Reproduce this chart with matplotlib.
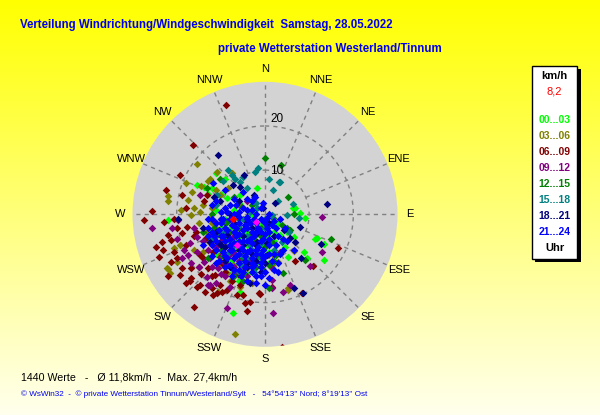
import numpy as np
import matplotlib.pyplot as plt
from matplotlib.patches import Rectangle

plt.rcParams['font.family'] = ['Liberation Sans', 'DejaVu Sans']

# Wind vectors, east / north component in km/h,
# one list per 3-hour block (drawn in time order, later blocks on top)
pts_00_03 = [(-11.2, 9.3), (-15.5, 6.6), (-21.9, -1.4), (-7.2, -22.4), (6.3, 1.4), (9, -0.9),
             (11.7, -5.4), (13.4, -6.8), (13.3, -10.3), (9.4, -10), (4.9, -3.9), (3.4, -4.7),
             (-6, -15.2), (-3, -0.2), (-1.9, 5.9), (-5.7, 4.4), (-8.7, 3.6), (0.4, -4.7),
             (0.8, -8.5), (-2.6, -6.2), (-4.9, -10), (-12.4, -0.9), (-7.2, -13), (-6, -5),
             (-3, -2), (-8, -3), (-1, -5), (-5, -9), (-2, -10), (0, -6), (2, -6), (-10, -3),
             (-7, 1), (-13, 4.5), (-4, -13.5), (1, -11), (-9.5, -7.5), (3, -2), (11.3, -5.6),
             (6.8, 1.4), (7.9, 0.2), (6.6, -5.1), (4.5, -7.3), (8.9, -8.5), (5.3, -9.6),
             (-5.7, -17.5), (-13.8, 6.1), (-9, -1), (-7, -6), (-4, -7), (-11, 1), (-6, 2.5),
             (-3, 0.5), (-1, -2.5), (-8, -10.5), (-10, 4.5), (2, -4), (-12, 6), (-9, 8), (-5, -12),
             (-7, -8), (-9, -5), (-4, -4), (-2, -11), (-6, -1), (-11, -9), (-0.5, -7),
             (-12, -3.5), (-7, -11.5)]
pts_03_06 = [(-15.5, 11.3), (-17.9, 7), (-21.9, 3.1), (-21.9, 4.2), (-17.4, 3.2), (-14.7, 0.6),
             (-12.1, 1.4), (-10.9, 9.6), (-7.5, 9.3), (-8.4, 5.9), (-10.2, 4.4), (-19.2, -6.9),
             (-22, -12.4), (-21.5, -13.3), (-6.8, -27.1), (-16.8, -0.2), (-12.4, -0.9),
             (-13.2, -3.9), (-11.7, -6.9), (-8.7, -9.2), (-8.7, -13.3), (-7.2, -11.5),
             (-4.9, -9.2), (-4.1, -12.2), (1.5, -11.5), (5.3, -16.7), (1.9, -9.2), (-16.6, 5.1),
             (-2.6, 4), (-11, -3), (-13, -6), (-9, -7), (-15, -2), (-14, 2), (-19, 1), (-6, -7.5),
             (-10, -11.5), (-3, -15.5), (-16, -8), (-12.4, 8.1), (-14.5, 6.5), (-13, 7.5),
             (-20.5, -7.7), (-22.2, -12.2), (-20, -10.7), (-10.6, -17.5), (-5.7, -16.4),
             (6.6, -8.3), (3, -10.9), (5.3, -17.1), (-12, -2), (-14, -8.5), (-10, -9), (-7, -10),
             (-16, 1.5), (-11, 5.5), (-6, 2), (-8, -15)]
pts_06_09 = [(-8.8, 24.7), (-16.2, 15.7), (-19.2, 8.9), (-22.4, 5.5), (-25.6, 0.8), (-27.5, -1.3),
             (-22.8, -1.8), (-23.4, -6.3), (-24.7, -7.5), (-23.1, -8.1), (-24.1, -9.6),
             (-21.9, -4.7), (-21.3, -5.8), (-20.7, -8.5), (-21.3, -10.7), (-21.9, -14),
             (-19.2, -13.7), (-16.7, -14.5), (-15.5, -16.4), (-14.7, -16), (-17, -15.2),
             (-13.6, -17.6), (-11.7, -18.3), (-10.9, -17.9), (-9.8, -17.5), (-16, -21),
             (-8.7, -17.1), (-5.7, -16), (-4.1, -22), (-4.5, -20.1), (-3.4, -19.8), (-5, -18.3),
             (-1.1, -18), (1.5, -16.4), (3.8, -30), (8.4, -17.9), (6.8, -10.6), (10.9, -11.6),
             (16.6, -7.6), (-17.9, 1.4), (-18.8, 4.4), (-17.7, -2.8), (-14.7, -9.2),
             (-12.8, -12.2), (-11.3, -13.7), (-10.2, -16), (-12, -16.7), (-16.8, -12.2),
             (-7.5, -15.2), (-6.4, -18.3), (-19.9, -10), (-18.8, -12.2), (-13.4, -5.4),
             (-15.7, -3.9), (-18.8, -4.3), (-11.7, -8.5), (-9.8, -11.1), (-13.9, 2.9),
             (-13.2, 4.4), (-14, -10), (-18, -7), (-16, -5), (-20, -3), (-12, -14), (-18, -15.5),
             (-20.5, -1), (-15, -12), (-9, -13), (-6, -13.5), (-14.5, -13.5), (-1.3, -17.9)]
pts_09_12 = [(-25.6, -3), (-19.6, -1.3), (-21, -3.2), (-15.5, -5.1), (-18.3, -8.1), (-17.4, -9.2),
             (-15.5, -8.5), (-16.8, -11.1), (-13.9, -10.7), (-12.4, -10), (-13.2, -14.1),
             (-10.6, -12.2), (-8.5, -21.3), (-10.2, -9.6), (-7.2, -8.5), (-5.7, -7.7), (-6.8, -13),
             (-3.4, -10.7), (1.5, -12.2), (1.5, -14.9), (1.7, -22.4), (4, -17.6), (5.7, -16),
             (10.2, -11.6), (13, -0.7), (13, -8.6), (-11.3, -1.7), (-9.4, -4.7), (-14.7, 4.4),
             (-4.1, 2.9), (3.4, -8.5), (-8.7, 0.6), (-10, -6), (-13, -8), (-8, -9), (-12, -12),
             (-9, -14), (-6, -10.5), (-15, -12), (-12.4, -16), (1.5, -16.6), (-18.8, -10),
             (-17, -6.5), (-20, -5.5), (-11, -15.5), (-7, -5), (-5, -11.8), (-11, -7.5),
             (-14, -6), (-9, -11), (-7, -12), (-16, -3), (-10, -13.5), (-12, -4.5), (-4, -14),
             (-13, -16), (-8, -16.5)]
pts_12_15 = [(0, 12.8), (3.6, 11.2), (5.3, 4), (14.9, -5.6), (4.1, -13.3), (2.6, -9.2), (1.5, -6.2),
             (3.8, -2.4), (5.7, -3.6), (-5.3, 1.7), (-13.2, 5.9), (-10.2, 8.1), (-1.1, -4.7),
             (-1.9, -9.2), (-6.4, -3.2), (-8.7, -1.7), (-4.9, -15.2), (1.9, -0.9), (0.8, -11.5),
             (-3, -10), (6.6, 0), (4.9, -3.2), (9, -10.3), (0.8, -16.7), (-4, -3), (-6, -6.5),
             (-1, -3), (-9, -2), (-2, -12), (0, -7.5), (-11, -5), (-7, 4), (-6, -1), (-2, -6),
             (-8, -4), (-5, -10), (-10, -8), (-12, 0), (-3, 2), (2, -10.5), (-7, -14), (-14, -4),
             (-9.5, -9.5), (-6, -3), (-3.5, -5), (-0.5, -12.5), (-8.5, -1.5), (-11.5, -3),
             (-5, -13.5), (-13, -10)]
pts_15_18 = [(-8.4, 10), (-2.3, 9.6), (-1.5, 10.4), (0.8, 8.1), (3.2, 7.2), (3.4, 7.4), (1.9, 5.5),
             (3, 3.1), (6.4, 2.3), (7.8, -0.9), (4.9, -0.2), (5.5, -3.9), (1.5, -0.2), (1.9, -1.7),
             (0, -3.2), (-4.1, 5.9), (-5.7, 7.4), (-10.9, 4.4), (-3.4, 0.6), (-4.9, -4.7),
             (0.4, -6.2), (-1.9, 1.4), (-7.2, -6.2), (3.8, -6.2), (-5, -1), (-2, -3), (-7, -7),
             (0, -1), (-4, -5), (-9, -4), (-1, -10), (-7.5, 8.9), (-6.8, 8.1), (-4.9, 8.5),
             (-9.5, 7.5), (-3, -8), (-6, -2.5), (-3, -1.5), (-8, -6), (-5, -9.5), (-10, -1),
             (-1.5, -8.5), (-6, -13), (2, -8), (-2, 2.5), (-11, 2), (-4, -10),
             (-8.5, -9), (-10, -4.5), (-5.5, -11.5), (-3.5, -7), (-7, -2.5), (-1, -6.5),
             (-12, -5.5), (-2.5, -13)]
pts_18_21 = [(-10.6, 13.4), (-4.8, 8.9), (14.1, 2.3), (7.9, -2.8), (5.7, -5.4), (6.8, -6.2),
             (12.7, -6.8), (8.1, -10), (8.7, -17.9), (6.6, -16.7), (4.4, -3.6), (2.3, 2.5),
             (-19.6, -1.1), (-7.2, 6.6), (-10.2, 2.9), (-2.6, 4.4), (-4.1, -1.7), (-1.9, -6.2),
             (0.4, -9.2), (-6.4, -0.2), (-12.4, -6.2), (-8.7, -4.7), (-0.4, 1.4), (-3.4, -15.6),
             (-3, -3), (-6, -8), (-10, -7), (-2, -7), (-8, 0), (1, -2), (-4, -12), (-11.5, 4),
             (-14, -3), (-1, -13), (-5.7, 6.2), (-5, -5), (-7, -2), (-9, -7.5), (-3, -9),
             (0, -11), (-2, -4.5), (-11, -4), (-6, 3), (2, -5), (-8, -12),
             (-5, -7), (-9, -10.5), (-2, -10.5), (-7.5, -1), (-10.5, -6.5), (0.5, -6.5), (-4, -11)]
pts_21_24 = [(-8, -1), (-6, -2), (-4, -1), (-2, -2), (0, -2), (-7, -4), (-5, -3.5), (-3, -4), (-1, -4),
             (1, -4), (-9, -6), (-7, -6.5), (-5, -6), (-3, -6.5), (-1, -6), (1, -7), (-8, -8),
             (-6, -9), (-4, -8.5), (-2, -9), (0, -9.5), (-6, -11), (-3, -11), (-9, -3), (-10, -5),
             (-11, -2), (-4, 1), (-6, 0.5), (-2, 0), (-1, 1.5), (-8, 2), (-3, 3), (3, -5), (2, -9),
             (4, -8), (3, -11), (-11, -8), (-12, -4), (-5, -13), (-1, -12), (-7, 3.5),
             (-11.7, 7), (-9, 5.5), (-5, 5), (-0.7, -1.3), (0.5, -0.8), (2, -1.5), (5, -6),
             (6.5, -8), (-13, -1), (-2, -14), (1, -14.5), (-4.5, -2.5), (-6.5, -5), (-3.5, -8),
             (-8.5, -10), (-9.5, -1), (-2.5, -5), (-0.5, -8), (1.5, -10.5), (2.5, -3), (-10, 0.5),
             (-12, 2), (-7, -12.5), (-4, -15), (0, -16), (3, -13), (-14, -7), (4.5, -3),
             (-2.3, 4), (-7.5, -2.5), (-5.5, -7.5), (-3.5, -2), (-1.5, -7.5), (-8, -5.5),
             (-4.5, -10.5), (-6.5, -3), (-2.5, -11.5), (0.5, -3), (-9.5, -8.5),
             (-8.5, -3.5), (-6, -4.5), (-4, -3), (-2, -4), (-0.5, -5.5), (-7.5, -8), (-5, -8),
             (-3, -10), (-1, -11), (1, -9), (-9, -9.5), (-11, -6), (-10, -2), (-12, -1), (-7, 0),
             (-5, 1.5), (-3, 1), (-1, -1), (1.5, -2.5), (2.5, -7), (3.5, -9), (-6, -12.5),
             (-8, -11.5), (-3, -13), (-1, -14), (2, -12.5), (-12, -9.5), (-13, -5), (-4, 3.5),
             (-6.5, 2), (-9, 1.5), (-11, 3), (-0.5, 2.5), (1, 0), (3.5, -1), (4, -5.5),
             (-5.5, -14), (-2, -15.5), (-7, -10), (-3.5, -5.5),
             (-10.5, -10.5), (-9, -12), (-7.5, -14), (-4.5, -12), (-0.5, -10), (0, -13),
             (-10.5, -3.5), (-11.5, -5), (-10, -1), (-8.5, 0.5), (-6, -0.5), (-4, -0.5),
             (-2.5, -1), (-1.5, -3), (0, -4.5), (-6, -6), (-4, -6), (-8, -7), (-9.5, -5),
             (-2, -8), (-6.5, -9.5), (-4.5, -9.5), (-1, -9), (-3, -12), (1, -5.5), (-12, -7),
             (-11, -11), (-13, -3)]
pts_latest = [(-2, -1.7), (-6.4, -6.9)]
pts_current = [(-7.3, -1.1)]

blocks = ['00...03', '03...06', '06...09', '09...12', '12...15', '15...18', '18...21', '21...24']
block_pts = [pts_00_03, pts_03_06, pts_06_09, pts_09_12, pts_12_15, pts_15_18, pts_18_21, pts_21_24]
block_colors = ['#00ff00', '#808000', '#800000', '#800080', '#008000', '#008080', '#000080', '#0000ff']
n_values = 1440
mean_speed = '11,8'
max_speed = '27,4'
current_speed = '8,2'
directions = ['N', 'NNE', 'NE', 'ENE', 'E', 'ESE', 'SE', 'SSE',
              'S', 'SSW', 'SW', 'WSW', 'W', 'WNW', 'NW', 'NNW']
ring_values = [10, 20]
r_max = 30

W, H = 600, 415
fig = plt.figure(figsize=(W / 100, H / 100), dpi=100)

# yellow fading background, axes in pixel units
bg = fig.add_axes([0, 0, 1, 1])
grad = np.linspace(0, 1, 256)
img = np.ones((256, 1, 3))
img[:, 0, 2] = grad * 0.93
bg.imshow(img, aspect='auto', extent=[0, W, H, 0])
bg.set_xlim(0, W)
bg.set_ylim(H, 0)
bg.axis('off')

blue = '#0000f0'
bg.text(20, 25, 'Verteilung Windrichtung/Windgeschwindigkeit  Samstag, 28.05.2022',
        fontsize=8.3, fontweight='bold', color=blue, va='center')
bg.text(218, 49, 'private Wetterstation Westerland/Tinnum',
        fontsize=8.3, fontweight='bold', color=blue, va='center')
bg.text(21, 377, f'{n_values} Werte   -   Ø {mean_speed}km/h  -  Max. {max_speed}km/h',
        fontsize=7.7, va='center')
bg.text(21, 394.5, '© WsWin32  -  © private Wetterstation Tinnum/Westerland/Sylt   -   '
        "54°54'13'' Nord; 8°19'13'' Ost", fontsize=5.9, color=blue, va='center')

# legend box with shadow
bg.add_patch(Rectangle((535, 69), 45.6, 193, facecolor='black', edgecolor='none'))
bg.add_patch(Rectangle((531.7, 66), 45.6, 193, facecolor='white', edgecolor='black', lw=1))
lx = 554.5
bg.text(lx, 76, 'km/h', fontsize=8, fontweight='bold', ha='center', va='center')
bg.text(lx, 92, current_speed, fontsize=8, color='red', ha='center', va='center')
for i, (lab, col) in enumerate(zip(blocks, block_colors)):
    bg.text(lx, 119.5 + i * 16, lab, fontsize=7.5, fontweight='bold', color=col,
            ha='center', va='center')
bg.text(lx, 247.5, 'Uhr', fontsize=8, fontweight='bold', ha='center', va='center')

# polar plot
cx, cy, R = 265, 214.3, 132.5
ax = fig.add_axes([(cx - R) / W, 1 - (cy + R) / H, 2 * R / W, 2 * R / H], projection='polar')
ax.set_theta_zero_location('N')
ax.set_theta_direction(-1)
ax.set_ylim(0, r_max)
ax.set_facecolor('#d3d3d3')
ax.grid(False)
ax.set_xticks([])
ax.set_yticks([])
ax.spines['polar'].set_visible(False)

grid_kw = dict(color='#808080', lw=1, linestyle=(0, (3, 3)), zorder=1)
t = np.linspace(0, 2 * np.pi, 361)
for rv in ring_values:
    ax.plot(t, np.full_like(t, rv), **grid_kw)
for i in range(16):
    a = np.radians(i * 22.5)
    r0 = 0 if i % 4 == 0 else 10
    ax.plot([a, a], [r0, r_max], **grid_kw)

for i, lab in enumerate(directions):
    ax.text(np.radians(i * 22.5), 32.8, lab, fontsize=8, ha='center', va='center', clip_on=False)

# ring labels just right of the north axis
for rv, ypx in zip(ring_values, [171, 118.5]):
    fig.text(270 / W, 1 - ypx / H, str(rv), fontsize=8.5, va='center', zorder=5)


def to_polar(pts):
    p = np.array(pts, dtype=float)
    speed = np.hypot(p[:, 0], p[:, 1])
    theta = np.arctan2(p[:, 0], p[:, 1])
    return theta, speed


for pts, col in zip(block_pts, block_colors):
    th, sp = to_polar(pts)
    ax.scatter(th, sp, marker='D', s=15, color=col, linewidths=0, zorder=3)

th, sp = to_polar(pts_latest)
ax.scatter(th, sp, marker='D', s=15, color='#ff00ff', linewidths=0, zorder=4)
th, sp = to_polar(pts_current)
ax.scatter(th, sp, marker='D', s=16, color='red', linewidths=0, zorder=4)

fig.savefig('out.png', dpi=100)
